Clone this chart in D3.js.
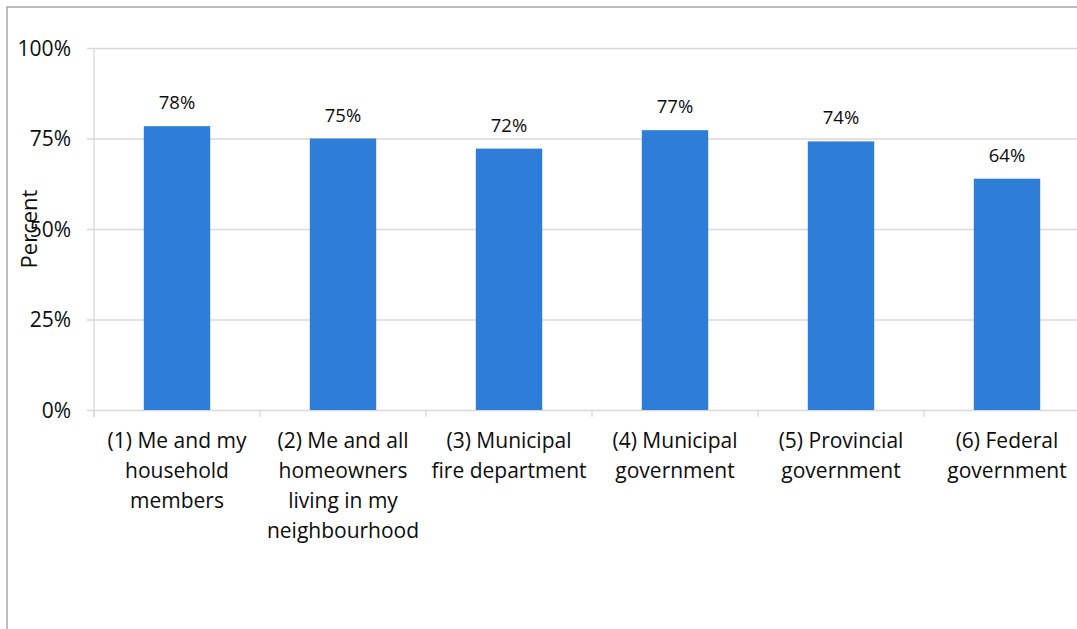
<!DOCTYPE html>
<html>
<head>
<meta charset="utf-8">
<script src="https://cdn.jsdelivr.net/npm/d3@7"></script>
<style>
  body { margin: 0; background: #fff; }
  text { font-family: "Open Sans", sans-serif; fill: #0d0d0d; }
</style>
</head>
<body>
<div id="barchart"></div>
<script>
const categories = [
  ["(1) Me and my", "household", "members"],
  ["(2) Me and all", "homeowners", "living in my", "neighbourhood"],
  ["(3) Municipal", "fire department"],
  ["(4) Municipal", "government"],
  ["(5) Provincial", "government"],
  ["(6) Federal", "government"]
];
const values = [78.4, 75.0, 72.2, 77.3, 74.2, 63.9];
const yTicks = [0, 25, 50, 75, 100];

const width = 1077, height = 629;
const margin = { top: 48, right: -13, bottom: 219, left: 94 };
const innerW = width - margin.left - margin.right;
const innerH = height - margin.top - margin.bottom;

const svg = d3.select("#barchart")
  .append("svg")
  .attr("width", width)
  .attr("height", height);

// chart border (only top and left show in the frame)
svg.append("rect")
  .attr("x", 7).attr("y", 7)
  .attr("width", width + 20).attr("height", height + 20)
  .attr("fill", "none")
  .attr("stroke", "#9a9a9a")
  .attr("stroke-width", 1.3);

const g = svg.append("g")
  .attr("transform", "translate(" + margin.left + "," + margin.top + ")");

const keys = categories.map((d, i) => "c" + i);

const x = d3.scaleBand()
  .domain(keys)
  .range([0, innerW])
  .paddingInner(0.6)
  .paddingOuter(0.3);

const y = d3.scaleLinear()
  .domain([0, 100])
  .range([innerH, 0]);

// gridlines + y labels
const yAxis = g.append("g")
  .call(d3.axisLeft(y).tickValues(yTicks).tickSize(-innerW - 7).tickFormat(d => d + "%"));
yAxis.select(".domain").remove();
yAxis.selectAll(".tick line")
  .attr("x1", -7)
  .attr("x2", innerW)
  .attr("stroke", "#d9d9d9")
  .attr("stroke-width", 1.3);
yAxis.selectAll(".tick text")
  .attr("x", -23)
  .attr("dy", "0.35em")
  .style("font-size", "21px")
  .style("font-family", "'Open Sans', sans-serif")
  .attr("fill", "#0d0d0d");

// vertical y-axis line
g.append("line")
  .attr("x1", 0).attr("x2", 0)
  .attr("y1", 0).attr("y2", innerH + 7)
  .attr("stroke", "#d9d9d9")
  .attr("stroke-width", 1.3);

// category boundary ticks
const step = x.step();
g.selectAll(".cat-tick")
  .data(d3.range(keys.length + 1))
  .enter()
  .append("line")
  .attr("x1", i => i * step)
  .attr("x2", i => i * step)
  .attr("y1", innerH)
  .attr("y2", innerH + 7)
  .attr("stroke", "#d9d9d9")
  .attr("stroke-width", 1.3);

// bars
g.selectAll(".bar")
  .data(values)
  .enter()
  .append("rect")
  .attr("x", (d, i) => x(keys[i]))
  .attr("y", d => y(d))
  .attr("width", x.bandwidth())
  .attr("height", d => innerH - y(d))
  .attr("fill", "#2e7dd8");

// data labels
g.selectAll(".val")
  .data(values)
  .enter()
  .append("text")
  .attr("x", (d, i) => x(keys[i]) + x.bandwidth() / 2)
  .attr("y", d => y(d) - 17)
  .attr("text-anchor", "middle")
  .style("font-size", "18.5px")
  .text(d => Math.round(d) + "%");

// category labels
const labels = g.selectAll(".cat")
  .data(categories)
  .enter()
  .append("text")
  .attr("text-anchor", "middle")
  .attr("transform", (d, i) => "translate(" + (x(keys[i]) + x.bandwidth() / 2) + "," + (innerH + 38) + ")")
  .style("font-size", "21px");
labels.selectAll("tspan")
  .data(d => d)
  .enter()
  .append("tspan")
  .attr("x", 0)
  .attr("y", (d, j) => j * 30)
  .text(d => d);

// y title
svg.append("text")
  .attr("transform", "translate(37,229) rotate(-90)")
  .attr("text-anchor", "middle")
  .style("font-size", "22px")
  .text("Percent");
</script>
</body>
</html>
